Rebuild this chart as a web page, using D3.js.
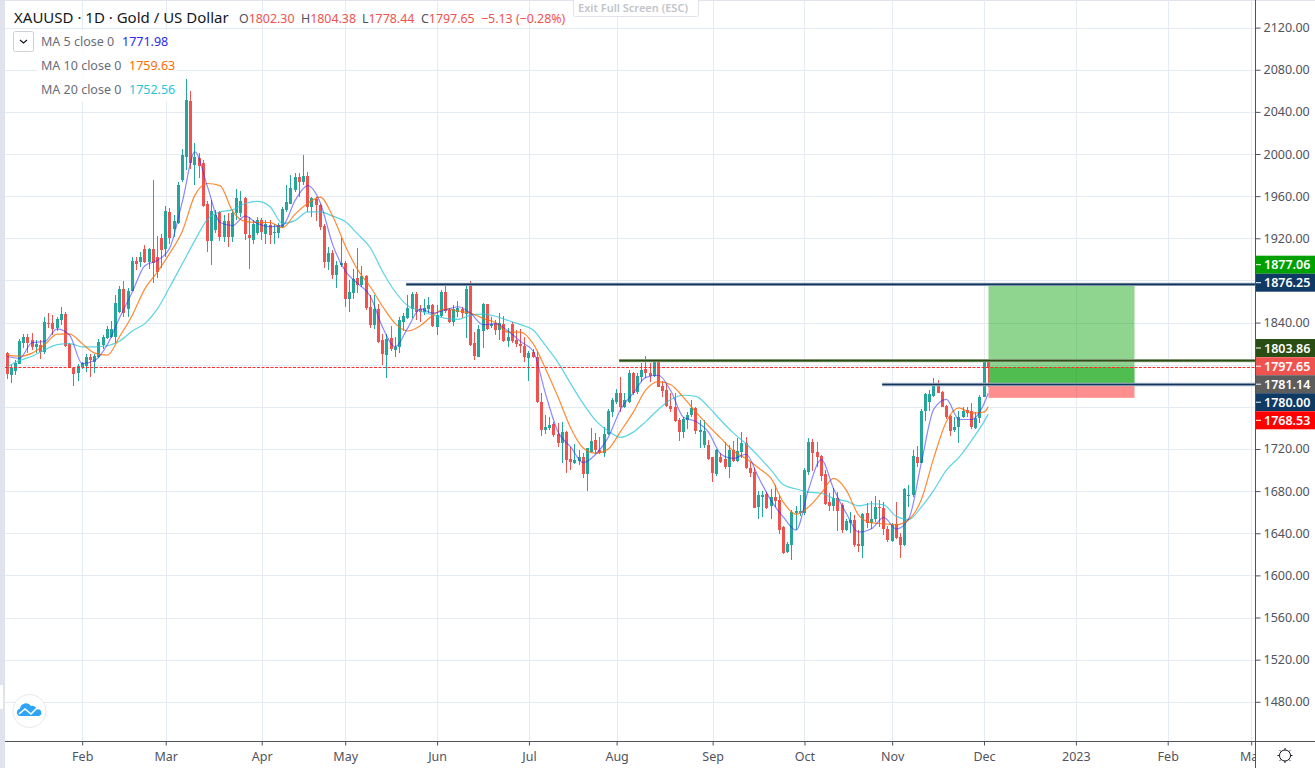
<!DOCTYPE html>
<html>
<head>
<meta charset="utf-8">
<title>XAUUSD 1D</title>
<script src="https://cdn.jsdelivr.net/npm/d3@7/dist/d3.min.js"></script>
<style>
html, body { margin: 0; padding: 0; background: #fff; overflow: hidden; }
text { font-family: "Noto Sans", Roboto, sans-serif; }
</style>
</head>
<body>
<div class="graphContainer"></div>
<script>
// daily bars, 6 Jan 2022 .. 2 Dec 2022
var opens = [
    1811,1790,1794.3,1800.6,1821,1826,1823.4,1816.5,1818.7,1812.4,
    1840,1839.3,1834.5,1842.4,1848,1819.6,1796.9,1792,1797.5,1798.8,
    1807.3,1802.9,1807,1818.7,1825,1826,1826.6,1850.3,1871.9,1852.6,
    1870,1898.4,1897.8,1909.5,1897.7,1910,1902.5,1920,1909.5,1944.6,
    1928.4,1934.8,1975.3,1997.4,2050.3,1989.5,1995.9,1991,1952.5,1917.7,
    1927.8,1945.2,1921.5,1936.7,1921.5,1943.6,1943.6,1957.9,1923,1918.3,
    1924.6,1937.3,1924,1932.6,1924.6,1924.6,1931,1946.8,1953,1965.8,
    1978.4,1973.7,1979,1950,1957.3,1951.5,1931.6,1897.8,1905.7,1885,
    1894.6,1896.2,1862.3,1868.3,1882.5,1875.6,1884,1854.4,1837.6,1852.8,
    1823.4,1809.1,1825.6,1813.9,1816.4,1840.8,1843.9,1852.8,1867,1853,
    1850.3,1852.8,1856.6,1836,1846.1,1869.2,1851.8,1840.8,1849.6,1852.5,
    1848,1875.6,1820.2,1807.5,1832.2,1857.5,1837,1839.2,1832.9,1838.2,
    1822.4,1838.5,1823.4,1819.6,1818,1806.6,1812.3,1807.5,1764.5,1737.9,
    1740.1,1743.6,1734,1725.9,1736.3,1710.4,1706.3,1708.8,1712.6,1696.1,
    1717.3,1728.4,1719.5,1716.4,1734,1755.3,1764.2,1772.7,1760,1764.8,
    1791.7,1773.7,1788.6,1795.5,1792.3,1789.5,1802.8,1779.7,1775.9,1761,
    1759.4,1747.4,1736.3,1747.4,1752.2,1759.1,1736.3,1723.7,1723.7,1712,
    1696.2,1712.6,1710.4,1702.5,1719,1708.8,1716.7,1725.9,1702.2,1698.4,
    1664.5,1674.6,1676.8,1665.8,1674,1671.5,1646.1,1622.4,1628.7,1659.4,
    1658.8,1659.4,1698.4,1726.9,1716.7,1713.2,1696.2,1669.2,1665.8,1673.7,
    1666.7,1643,1650,1652.5,1629.7,1628,1658.8,1650,1653.1,1665.1,
    1663.6,1644.2,1632.9,1648.4,1636,1628.7,1675.3,1676.2,1712,1706.9,
    1756.3,1764.8,1770.5,1780,1774.3,1760.7,1751.5,1737.9,1740.5,1750.6,
    1756.9,1756.3,1739.5,1749.6,1769.5,1802.3];

var highs = [
    1812,1799.7,1804.5,1824,1829,1829,1829.8,1823.4,1823.4,1845,
    1848.8,1847.2,1845,1854.5,1850.3,1820.3,1798,1800.6,1802.9,1810,
    1810,1810,1824,1828.2,1836.7,1841.8,1866,1874.7,1879.8,1872.5,
    1902.5,1901.9,1907,1914,1911,1975.3,1922,1924,1950.6,1948.4,
    1942,1973.7,2004.4,2070.9,2060,2010,2000.6,1994.3,1955.7,1956.3,
    1946.8,1946,1942,1944.3,1946.8,1966.4,1965.2,1959.5,1940.5,1937.3,
    1940.5,1938.9,1937.3,1937.3,1934,1934.8,1950,1970.5,1980,1981.6,
    1981.6,1999,1983,1959.5,1959.5,1953,1933.5,1911.4,1908.8,1898.7,
    1920,1898.7,1880,1890.5,1910.4,1893.6,1885,1866,1866,1858,
    1829,1829,1836.6,1826.5,1844.9,1848.7,1866,1869,1869.2,1856.6,
    1862,1864.5,1857.5,1856.6,1870.8,1874.6,1853.4,1856.6,1860.7,1855,
    1877.8,1879.7,1831.3,1837.6,1858.8,1858,1845.5,1842.3,1848.7,1846.1,
    1834.4,1840.8,1832.9,1833.5,1825.9,1813.2,1814.5,1813.2,1772.7,1752.1,
    1750.6,1745.8,1744.9,1745.8,1737,1722,1724.6,1718.9,1716.4,1721.4,
    1739.5,1735.4,1731.6,1740.4,1757.5,1768,1776.5,1787.9,1772.7,1794.9,
    1793.3,1791.7,1801.8,1808.2,1801.8,1805,1803.7,1784.7,1781.6,1772.7,
    1772.7,1749,1750.6,1755.3,1766.4,1759.5,1747.4,1747.4,1728.4,1712.6,
    1719.6,1715.8,1726.9,1723.7,1727.8,1730,1735.7,1731.6,1707.9,1701.5,
    1680.3,1680.3,1679.4,1681.6,1685.7,1676.2,1646.8,1631.9,1662,1665.8,
    1676.2,1701.5,1730.7,1729,1726.9,1714.2,1700,1677.8,1682.5,1679.4,
    1668.3,1654,1660.4,1657.2,1643,1658.8,1668.9,1670.8,1675.3,1671.5,
    1669.9,1646.8,1649.3,1669.9,1639.8,1682.5,1685.7,1718.9,1722.7,1757.5,
    1773.4,1775.9,1787,1785.4,1775.3,1761.7,1752.2,1750.6,1756.3,1760,
    1759.5,1763.9,1755.3,1771.2,1804.4,1804.38];

var lows = [
    1786.4,1783,1790.2,1800.6,1815.5,1811,1814,1811,1805.7,1810,
    1834.5,1828.2,1832.3,1837.7,1816.5,1797.5,1779.8,1784.8,1795.6,1793.4,
    1788.6,1791.8,1806,1814.6,1824.4,1825,1821,1848.8,1845,1845,
    1870,1890,1893,1897,1890.5,1878,1882,1891.5,1902.5,1915,
    1920.8,1934,1973.7,1984.8,1986,1971,1976.9,1949.3,1907.2,1894.6,
    1924.6,1917.7,1916.7,1911.4,1916.7,1937.3,1940.5,1918.3,1890.5,1915,
    1923,1918.3,1915,1915,1915,1920,1929.4,1945,1952.5,1964.2,
    1959.5,1970.5,1945,1939.8,1936.7,1928,1891.4,1889.8,1881,1872.5,
    1893,1855,1850.3,1862,1867.7,1873.4,1851.8,1834.4,1834,1821,
    1799.6,1787,1813,1807.5,1811.3,1832.2,1843,1844,1842.3,1840.8,
    1847,1848.7,1835.4,1828.1,1844.9,1849.3,1839.8,1836.6,1844.9,1844,
    1825,1817.7,1804.4,1806.9,1815.4,1833,1834.5,1828.1,1823.4,1821.8,
    1817,1820.2,1817,1810.7,1802.8,1784.7,1806,1763.9,1732.2,1734,
    1737.9,1731.6,1722,1706.9,1697.4,1699.9,1705.6,1705,1692,1680.3,
    1716.4,1715.1,1715,1712,1733,1750.6,1763,1755.3,1758.5,1763.9,
    1771.1,1772,1783.8,1787,1783.8,1788.6,1778.4,1769.6,1759.4,1755.3,
    1745.8,1727.8,1730,1738.6,1750.6,1734.1,1720.5,1720.5,1709.4,1688.9,
    1694.2,1706.3,1700.6,1692,1707.9,1707.9,1711,1700.6,1693.6,1663.6,
    1653.7,1655.6,1662.6,1653.1,1665.1,1639.2,1620.2,1620.8,1614.5,1643,
    1656.3,1657.2,1695.2,1699.3,1703.1,1689.8,1666.7,1661.3,1661.3,1642.3,
    1640.4,1642.3,1639.8,1627.2,1622.4,1616.7,1644.6,1643.6,1650.9,1646.1,
    1638.2,1631.9,1631.9,1634.1,1616.7,1627.8,1665.1,1674.6,1702.5,1706.3,
    1746.8,1756.3,1769.6,1772.7,1759.4,1748,1732.2,1736.3,1725.9,1749,
    1750.6,1738.6,1738.6,1744.9,1768.9,1778.44];

var closes = [
    1791,1796.5,1801.3,1822.5,1826,1821,1816.5,1820,1812.4,1840.2,
    1838.6,1833.9,1843,1848,1817.7,1797.5,1791,1798.8,1801.3,1807.3,
    1804.5,1808.2,1821.2,1826,1833.6,1833.9,1858.3,1871.9,1848.8,1870,
    1898.4,1896,1902.5,1897.8,1909.5,1897,1888,1909,1946,1920,
    1936.4,1970.5,1999,2051.2,1991.7,1996.8,1988.6,1950.6,1917.4,1946,
    1942,1920.9,1936,1920.9,1943.6,1957.9,1955.3,1923.7,1920,1933.5,
    1937.3,1926.2,1933.5,1923,1926,1932.6,1947.8,1954.7,1967.4,1978.4,
    1973.7,1979,1950,1957.9,1951.5,1931,1897.8,1905.7,1885,1894.7,
    1897,1862.3,1869.2,1881,1875.6,1884,1854,1837.6,1852.8,1821.8,
    1810,1824,1814.5,1817,1842.3,1846.1,1853.4,1866.7,1850.3,1850,
    1853.4,1856.6,1836.6,1847,1869.2,1850.9,1840.8,1852.8,1853.4,1848.7,
    1871.5,1818.6,1808.2,1833.8,1857.5,1833.5,1838.5,1832.9,1839.2,1822.7,
    1825.9,1822.7,1819.2,1818,1807.5,1811.3,1806.9,1764.5,1737.9,1741,
    1742.6,1733.2,1725.2,1736.3,1709.4,1707.8,1709.4,1712.6,1696.1,1720.5,
    1727.8,1718.9,1716.4,1734,1756.3,1766.4,1773.3,1760,1766.4,1791.7,
    1772.7,1789.5,1794.9,1791.7,1789.5,1802.8,1779,1775,1761,1757.8,
    1746.4,1736.3,1748,1752.2,1759.1,1737,1737.9,1737,1710.4,1697.4,
    1719,1707.9,1702.5,1719,1708.8,1718,1725.9,1701.5,1697.4,1664.2,
    1676.2,1676.2,1664.2,1674,1670.8,1643,1621.5,1629.7,1659.8,1661,
    1661.4,1700,1726.2,1716.4,1712,1694.2,1667.3,1665.8,1673,1661,
    1643,1651.5,1652.5,1628.7,1628,1657.9,1649.3,1653.4,1665.1,1663.6,
    1643.6,1633.5,1647.7,1635.1,1628.7,1681.9,1676.2,1713.2,1706.9,1756.3,
    1772.1,1772.1,1780.7,1773.4,1760,1750.6,1737,1740.5,1750.6,1756.3,
    1753.8,1740.5,1749,1769.6,1803.7,1797.65];

// moving averages read every third bar, plus the last bar
var maBars = [
    0,3,6,9,12,15,18,21,24,27,
    30,33,36,39,42,45,48,51,54,57,
    60,63,66,69,72,75,78,81,84,87,
    90,93,96,99,102,105,108,111,114,117,
    120,123,126,129,132,135,138,141,144,147,
    150,153,156,159,162,165,168,171,174,177,
    180,183,186,189,192,195,198,201,204,207,
    210,213,216,219,222,225,228,231,234,235];

var ma5 = [
    1808,1806,1821,1822,1834,1828,1801,1804,1819,1845,
    1869,1894,1899,1911,1955,2002,1969,1935,1932,1941,
    1934,1931,1932,1956,1970,1954,1914,1889,1877,1865,
    1835,1817,1835,1853,1849,1852,1855,1849,1838,1839,
    1832,1822,1813,1772,1736,1722,1707,1715,1731,1758,
    1773,1788,1790,1775,1750,1746,1736,1715,1711,1715,
    1693,1671,1655,1643,1682,1710,1682,1659,1641,1644,
    1655,1644,1654,1707,1758,1767,1748,1748,1763,1772.7];

var ma10 = [
    1809,1808,1811,1819,1829,1829,1820,1811,1809,1827,
    1847,1872,1888,1906,1927,1961,1972,1970,1946,1936,
    1935,1935,1930,1943,1953,1959,1941,1913,1890,1874,
    1855,1839,1832,1837,1847,1853,1851,1849,1844,1840,
    1831,1831,1820,1796,1769,1740,1721,1716,1720,1737,
    1755,1776,1784,1781,1769,1755,1742,1730,1718,1711,
    1702,1692,1669,1658,1665,1678,1692,1681,1657,1650,
    1649,1648,1653,1672,1712,1746,1759,1754,1755,1760];

var ma20 = [
    1798,1804,1808,1814,1819,1820,1817,1817,1818,1822.5,
    1832,1839,1853,1874,1896,1918,1938,1945,1947,1953,
    1955,1950,1934,1937,1945,1945,1941,1936,1924,1911,
    1888,1869,1856,1851,1847,1844,1843,1847,1848,1846,
    1842,1838,1833,1818,1802,1782,1763,1747,1737,1731,
    1736,1746,1757.5,1767,1771,1770,1760,1747,1735,1725,
    1713,1700,1686,1682,1679,1678,1673,1670.5,1666,1668,
    1667,1656,1653,1665,1681,1700,1712,1728,1746,1753];

// axes
var gridPrices = [2120,2080,2040,2000,1960,1920,1880,1840,1800,1760,1720,1680,1640,1600,1560,1520,1480];
var labelPrices = [2120,2080,2040,2000,1960,1920,1840,1720,1680,1640,1600,1560,1520,1480];
var monthBars = [18,38,61,81,103,125,146,169,191,212,234,256,278,298];
var monthLabels = ["Feb","Mar","Apr","May","Jun","Jul","Aug","Sep","Oct","Nov","Dec","2023","Feb","Mar"];

// the drawn tools
var topLine = 1876.25, midLine = 1803.86, entryLine = 1781.14, stopPrice = 1768.53, lastPrice = 1797.65;
var toolBars = [235, 270];
var lineStartBars = [95.6, 146.6, 209.6];

// stacked price tags on the axis
var tagTexts = ["1877.06","1876.25","1803.86","1797.65","1781.14","1780.00","1768.53"];
var tagColors = ["#00a000","#0f3a63","#2a4d14","#ef5350","#5d5d5d","#0f3a63","#ff0000"];
var tagSlots = [264.7,282.7,348,366.2,384.2,402.2,420.3];

var w = 1315, h = 768,
    left = 5, right = 1255.5, bottom = 741.5;

var x = d3.scaleLinear().domain([0, 298]).range([7.05, 1251.2]);
var y = d3.scaleLinear().domain([1480, 2120]).range([701.8, 27.6]);

var canvas = d3.select(".graphContainer")
    .append("svg")
    .attr("width", w)
    .attr("height", h)
    .style("display", "block");

canvas.append("clipPath").attr("id", "plot")
    .append("rect").attr("x", left).attr("y", 0).attr("width", right - left).attr("height", bottom);
canvas.append("clipPath").attr("id", "timeClip")
    .append("rect").attr("x", 0).attr("y", 0).attr("width", right).attr("height", h);

// frame strips
canvas.append("rect").attr("x", 0).attr("y", 0).attr("width", 5).attr("height", h).attr("fill", "#e0e3eb");
canvas.append("rect").attr("x", 0).attr("y", 0).attr("width", w).attr("height", 1).attr("fill", "#e0e3eb");
canvas.append("rect").attr("x", 0).attr("y", 685).attr("width", 3).attr("height", 24).attr("fill", "#fff");

// grid
var grid = canvas.append("g").attr("clip-path", "url(#plot)").attr("shape-rendering", "crispEdges");
grid.selectAll("line.h").data(gridPrices).enter().append("line")
    .attr("class", "h")
    .attr("x1", left).attr("x2", right)
    .attr("y1", function (d) { return Math.round(y(d)) + 0.5; })
    .attr("y2", function (d) { return Math.round(y(d)) + 0.5; })
    .attr("stroke", "#e4ebf2");
grid.selectAll("line.v").data(monthBars).enter().append("line")
    .attr("class", "v")
    .attr("y1", 0).attr("y2", bottom)
    .attr("x1", function (d) { return Math.round(x(d)) + 0.5; })
    .attr("x2", function (d) { return Math.round(x(d)) + 0.5; })
    .attr("stroke", "#e4ebf2");

// position tool
var tool = canvas.append("g");
var boxX = x(toolBars[0]) + 0.3, boxW = x(toolBars[1]) - x(toolBars[0]) - 0.1;
tool.append("rect").attr("x", boxX).attr("width", boxW)
    .attr("y", y(topLine)).attr("height", y(entryLine) - y(topLine))
    .attr("fill", "#00a000").attr("fill-opacity", 0.44);
tool.append("rect").attr("x", boxX).attr("width", boxW)
    .attr("y", y(lastPrice)).attr("height", y(entryLine) - y(lastPrice))
    .attr("fill", "#00a000").attr("fill-opacity", 0.44);
tool.append("rect").attr("x", boxX).attr("width", boxW)
    .attr("y", y(entryLine)).attr("height", y(stopPrice) - y(entryLine))
    .attr("fill", "#ff0000").attr("fill-opacity", 0.44);

// candles
var bars = canvas.append("g").attr("clip-path", "url(#plot)").attr("shape-rendering", "crispEdges");
var candle = bars.selectAll("g").data(closes).enter().append("g")
    .attr("fill", function (d, i) { return d >= opens[i] ? "#26a69a" : "#ef5350"; });
candle.append("rect")
    .attr("x", function (d, i) { return Math.floor(x(i)); })
    .attr("width", 1)
    .attr("y", function (d, i) { return y(highs[i]); })
    .attr("height", function (d, i) { return y(lows[i]) - y(highs[i]); });
candle.append("rect")
    .attr("x", function (d, i) { return Math.floor(x(i)) - 1; })
    .attr("width", 3)
    .attr("y", function (d, i) { return y(Math.max(d, opens[i])); })
    .attr("height", function (d, i) { return Math.max(1, Math.abs(y(d) - y(opens[i]))); });

// moving averages
function drawMa(values, color, opacity)
{
    var line = d3.line()
        .x(function (d, i) { return x(maBars[i]); })
        .y(function (d) { return y(d); })
        .curve(d3.curveMonotoneX);
    canvas.append("path")
        .attr("clip-path", "url(#plot)")
        .attr("d", line(values))
        .attr("fill", "none")
        .attr("stroke", color)
        .attr("stroke-opacity", opacity)
        .attr("stroke-width", 1.2);
}
drawMa(ma20, "#26c6da", 0.75);
drawMa(ma10, "#ff6d00", 0.8);
drawMa(ma5, "#2a2aff", 0.55);

// last price line
canvas.append("line")
    .attr("x1", left).attr("x2", right)
    .attr("y1", Math.round(y(lastPrice)) + 0.5).attr("y2", Math.round(y(lastPrice)) + 0.5)
    .attr("stroke", "#ff2a2a")
    .attr("stroke-width", 1.2)
    .attr("stroke-dasharray", "3,1.5");

// horizontal rays
function drawRay(price, startBar, glow, core)
{
    var py = y(price), sx = x(startBar);
    canvas.append("line").attr("x1", sx).attr("x2", right).attr("y1", py).attr("y2", py)
        .attr("stroke", glow).attr("stroke-width", 3.4);
    canvas.append("line").attr("x1", sx).attr("x2", right).attr("y1", py).attr("y2", py)
        .attr("stroke", core).attr("stroke-width", 1.6);
}
drawRay(topLine, lineStartBars[0], "#a5b5c6", "#12365c");
drawRay(midLine, lineStartBars[1], "#9fb193", "#2a4d14");
drawRay(entryLine, lineStartBars[2], "#a5b5c6", "#12365c");

// axes
var yAxis = d3.axisRight(y).tickValues(labelPrices).tickSize(5).tickPadding(3).tickFormat(d3.format(".2f"));
var yg = canvas.append("g").attr("transform", "translate(" + right + ",0)").call(yAxis);
yg.select(".domain").remove();
yg.selectAll("text").attr("font-size", 12.5).attr("fill", "#50535e").style("font-family", '"Noto Sans", Roboto, sans-serif');
yg.selectAll("line").attr("stroke", "#50535e");

var xAxis = d3.axisBottom(x).tickValues(monthBars).tickSize(4).tickPadding(7)
    .tickFormat(function (d, i) { return monthLabels[i]; });
var xg = canvas.append("g").attr("clip-path", "url(#timeClip)").attr("transform", "translate(0," + bottom + ")").call(xAxis);
xg.select(".domain").remove();
xg.selectAll("text").attr("font-size", 12.5).attr("fill", "#50535e").style("font-family", '"Noto Sans", Roboto, sans-serif');
xg.selectAll("line").attr("stroke", "#50535e");

canvas.append("line").attr("x1", left).attr("x2", w).attr("y1", bottom).attr("y2", bottom).attr("stroke", "#50535e");
canvas.append("line").attr("x1", right).attr("x2", right).attr("y1", 0).attr("y2", h).attr("stroke", "#50535e");

// price tags
var tags = canvas.selectAll("g.tag").data(tagTexts).enter().append("g").attr("class", "tag")
    .attr("transform", function (d, i) { return "translate(" + (right + 0.5) + "," + tagSlots[i] + ")"; });
tags.append("rect").attr("x", 0).attr("y", -9).attr("width", 60).attr("height", 18)
    .attr("fill", function (d, i) { return tagColors[i]; });
tags.append("line").attr("x1", 0).attr("x2", 5).attr("stroke", "#fff");
tags.append("text").attr("x", 8).attr("y", 4.5)
    .attr("font-size", 12.5).attr("font-weight", 600).attr("fill", "#fff").text(function (d) { return d; });

// header
var title = canvas.append("text").attr("x", 14).attr("y", 22.5).attr("font-size", 15).attr("fill", "#131722");
title.text("XAUUSD · 1D · Gold / US Dollar");

var ohlcLabels = ["O", "H", "L", "C"];
var ohlcValues = ["1802.30", "1804.38", "1778.44", "1797.65"];
var ohlcX = [239, 301, 362, 421];
ohlcLabels.forEach(function (d, i) {
    var t = canvas.append("text").attr("x", ohlcX[i]).attr("y", 22.5).attr("font-size", 12.4).attr("fill", "#50535e");
    t.append("tspan").text(d);
    t.append("tspan").attr("fill", "#ef5350").text(ohlcValues[i]);
});
canvas.append("text").attr("x", 481).attr("y", 22.5).attr("font-size", 12.4).attr("fill", "#ef5350").text("−5.13 (−0.28%)");

// legend
var legendNames = ["MA 5 close 0", "MA 10 close 0", "MA 20 close 0"];
var legendValues = ["1771.98", "1759.63", "1752.56"];
var legendColors = ["#2a2aee", "#ff6d00", "#26c6da"];
var legendRows = [46, 70, 94];
var legendValueX = [122, 129, 129];
canvas.append("rect").attr("x", 37).attr("y", 30).attr("width", 140).attr("height", 72).attr("fill", "#fff").attr("fill-opacity", 0.85);
legendNames.forEach(function (d, i) {
    canvas.append("text").attr("x", 41).attr("y", legendRows[i]).attr("font-size", 12.5).attr("fill", "#6a6d78").text(d);
    canvas.append("text").attr("x", legendValueX[i]).attr("y", legendRows[i]).attr("font-size", 12.5)
        .attr("fill", legendColors[i]).text(legendValues[i]);
});
canvas.append("rect").attr("x", 13.5).attr("y", 31.5).attr("width", 20).attr("height", 20).attr("rx", 2)
    .attr("fill", "#fff").attr("stroke", "#cfd1d6");
canvas.append("path").attr("d", "M20,40 l3.5,3 l3.5,-3").attr("fill", "none").attr("stroke", "#131722").attr("stroke-width", 1.2);

// exit full screen note
canvas.append("rect").attr("x", 573.5).attr("y", -3).attr("width", 125).attr("height", 19.5).attr("rx", 2)
    .attr("fill", "#fff").attr("stroke", "#e0e3eb");
canvas.append("text").attr("x", 578).attr("y", 12).attr("font-size", 11).attr("font-weight", 600).attr("fill", "#c2c4ca")
    .text("Exit Full Screen (ESC)");

// logo
canvas.append("circle").attr("cx", 29.5).attr("cy", 711).attr("r", 16.5).attr("fill", "#fff").attr("stroke", "#e6e8ec");
canvas.append("path")
    .attr("d", "M19,716 a4,4 0 0 1 1,-7.5 a6,6 0 0 1 11,-2.5 a5,5 0 0 1 6,3.5 a3.4,3.4 0 0 1 2,6.5 z")
    .attr("fill", "#2fa4f5");
canvas.append("path")
    .attr("d", "M19,714 l6,-5 l6,5 l6,-6")
    .attr("fill", "none").attr("stroke", "#fff").attr("stroke-width", 1.6);

// settings icon
canvas.append("circle").attr("cx", 1285).attr("cy", 755.5).attr("r", 5.5).attr("fill", "#fff").attr("stroke", "#131722");
d3.range(0, 360, 45).forEach(function (a) {
    var r = a * Math.PI / 180;
    canvas.append("line")
        .attr("x1", 1285 + 5.5 * Math.cos(r)).attr("y1", 755.5 + 5.5 * Math.sin(r))
        .attr("x2", 1285 + 7.5 * Math.cos(r)).attr("y2", 755.5 + 7.5 * Math.sin(r))
        .attr("stroke", "#131722");
});
</script>
</body>
</html>
